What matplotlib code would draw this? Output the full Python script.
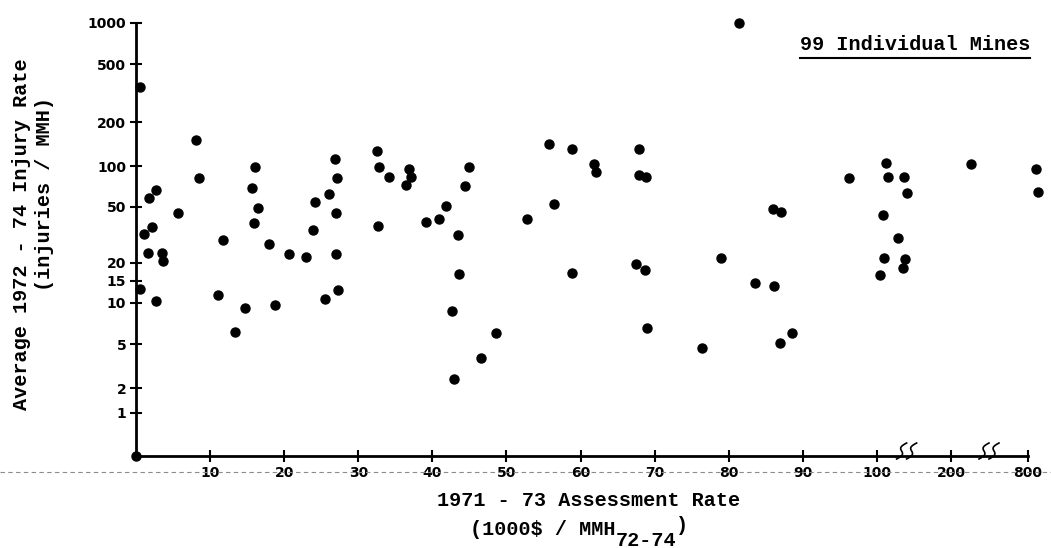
import numpy as np
import matplotlib
matplotlib.use("Agg")
import matplotlib.pyplot as plt
from matplotlib.lines import Line2D

# -----------------------------------------
# data
# -----------------------------------------
assessment = [0.6, 8.1, 8.5, 2.7, 1.7, 5.7, 2.2, 1.1, 11.7, 1.6, 3.5, 3.6, 0.5,
              2.7, 11.0, 14.7, 13.3, 16.1, 15.7, 16.4, 15.9, 18.0, 20.7, 23.0,
              27.0, 23.9, 24.2, 26.1, 27.0, 27.1, 26.9, 32.5, 32.8, 34.1, 36.8,
              37.1, 36.5, 32.7, 45.0, 44.4, 41.8, 40.9, 39.1, 43.5, 52.7, 43.6,
              42.7, 48.6, 46.6, 42.9, 27.2, 25.5, 18.8, 55.8, 58.8, 67.9, 61.8,
              62.1, 67.9, 68.8, 56.4, 58.8, 67.5, 68.7, 78.9, 85.9, 87.0, 83.5,
              86.1, 68.9, 76.4, 86.9, 88.5, 96.2, 112.6, 115.3, 136.5, 140.1,
              108.5, 128.8, 109.1, 137.8, 134.7, 104.7, 356, 860, 875, 81.4, 0]
injury = [345, 150, 82, 67, 58, 45, 36, 32, 29, 23.5, 23.4, 20.7, 12.9,
          10.4, 11.6, 9.2, 6.1, 98, 69, 49, 38.6, 27.2, 23.3, 22.2,
          23.1, 34.5, 54, 62, 45.3, 81, 112, 127, 98, 83, 95,
          82.6, 72.6, 36.8, 98, 71, 50.8, 41.3, 39.3, 31.8, 41.3, 16.9,
          8.7, 6.0, 3.7, 2.4, 12.7, 10.8, 9.6, 141, 131, 131, 103,
          90, 86, 83, 53, 17.0, 19.6, 17.8, 21.7, 48.4, 46.3, 14.4,
          13.7, 6.6, 4.6, 5.1, 6.0, 81, 105, 82.6, 83.3, 63.7,
          43.6, 30.1, 21.8, 21.5, 18.4, 16.5, 103, 94.6, 64.1, 1000, 0]

x_ticks = [10, 20, 30, 40, 50, 60, 70, 80, 90, 100, 200, 800]
y_ticks = [1, 2, 5, 10, 15, 20, 50, 100, 200, 500, 1000]
x_breaks = [140, 496]

# hand drawn axes: spacing of the ticks as drawn (pixels from the origin)
x_knots = [-100, 0, 100, 200, 800, 2000]
x_pix = [-741, 0, 741, 815, 892, 1046]
y_knots = [-2, -1, 0, np.log10(2), np.log10(5), 1, np.log10(15), np.log10(20),
           np.log10(50), 2, np.log10(200), np.log10(500), 3, 4]
y_pix = [-43, 0, 43, 68, 112, 153, 175, 193, 249, 290, 334, 392, 433, 569]


def x_fwd(v):
    return np.interp(v, x_knots, x_pix)


def x_inv(p):
    return np.interp(p, x_pix, x_knots)


def y_fwd(v):
    v = np.asarray(v, dtype=float)
    t = np.where(v >= 1, np.log10(np.maximum(v, 1e-9)), v - 1)
    return np.interp(t, y_knots, y_pix)


def y_inv(p):
    t = np.interp(p, y_pix, y_knots)
    return np.where(t >= 0, 10 ** t, t + 1)


# -----------------------------------------
# figure
# -----------------------------------------
W, H = 1051, 548
fig = plt.figure(figsize=(W / 100, H / 100), dpi=100)

x0, y0 = 136, 456
ax = fig.add_axes([x0 / W, (H - y0) / H, x_fwd(900) / W, 433 / H])
ax.set_xscale("function", functions=(x_fwd, x_inv))
ax.set_yscale("function", functions=(y_fwd, y_inv))
ax.set_xlim(0, 900)
ax.set_ylim(0, 1000)

ax.plot(assessment, injury, "o", color="black", ms=6.5, clip_on=False, zorder=3)

for s in ["top", "right"]:
    ax.spines[s].set_visible(False)
for s in ["left", "bottom"]:
    ax.spines[s].set_linewidth(2)
ax.spines["bottom"].set_bounds(0, 800)

ax.set_xticks(x_ticks, labels=[str(t) for t in x_ticks])
ax.set_yticks(y_ticks, labels=[str(t) for t in y_ticks])
ax.minorticks_off()
ax.tick_params(direction="inout", length=8, width=1.5, labelsize=10, pad=3)
for lab in ax.get_xticklabels() + ax.get_yticklabels():
    lab.set_fontweight("bold")

# axis break marks
fig.canvas.draw()
s = np.linspace(0, 1, 30)
for xb in x_breaks:
    px, py = ax.transData.transform((xb, 0))
    for off in (-5, 5):
        xs = px + off - 5 + 10 * s + 3 * np.sin(2 * np.pi * s)
        ys = py - 3 + 16 * s
        fig.add_artist(Line2D(xs / W, ys / H, color="black", lw=1.2))

# labels (typewriter lettering)
tw = dict(family="Liberation Mono", fontweight="bold", fontsize=14.5)
fig.text(22 / W, 1 - 234 / H, "Average 1972 - 74 Injury Rate", rotation=90,
         ha="center", va="center", **tw)
fig.text(45 / W, 1 - 194 / H, "(injuries / MMH)", rotation=90,
         ha="center", va="center", **tw)
fig.text(589 / W, 1 - 506 / H, "1971 - 73 Assessment Rate",
         ha="center", va="baseline", **tw)

t_main = fig.text(470 / W, 1 - 535 / H, "(1000$ / MMH", ha="left",
                  va="baseline", **tw)
fig.canvas.draw()
bb = t_main.get_window_extent()
t_sub = fig.text(bb.x1 / W, 1 - 546 / H, "72-74", ha="left", va="baseline",
                 **tw)
fig.canvas.draw()
bb = t_sub.get_window_extent()
fig.text(bb.x1 / W, 1 - 531 / H, ")", ha="left", va="baseline", **tw)

title = fig.text(915 / W, 1 - 50 / H, "99 Individual Mines",
                 ha="center", va="baseline", **tw)
fig.canvas.draw()
bb = title.get_window_extent()
fig.add_artist(Line2D([bb.x0 / W, bb.x1 / W], [(H - 58) / H] * 2,
                      color="black", lw=1.5))

# faint fold line of the scan
fig.add_artist(Line2D([0, 1], [(H - 472) / H] * 2, color="0.55", lw=0.8,
                      ls=(0, (4, 3))))

fig.savefig("out.png", dpi=100)
